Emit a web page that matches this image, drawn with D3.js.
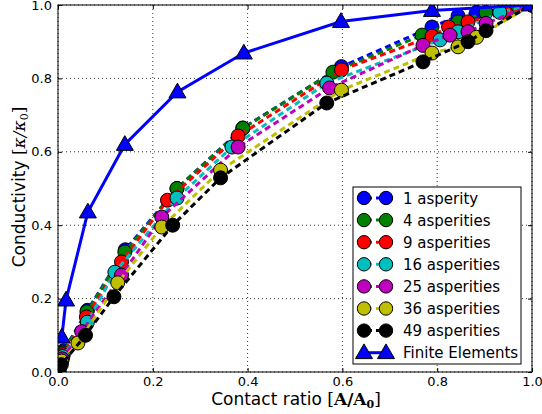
<!DOCTYPE html>
<html><head><meta charset="utf-8">
<script src="https://cdn.jsdelivr.net/npm/d3@7"></script>
<style>body{margin:0;background:#fff}svg{display:block}text{font-family:"DejaVu Sans",sans-serif}</style>
</head><body>
<script>
const xTicks = [0.0, 0.2, 0.4, 0.6, 0.8, 1.0];
const yTicks = [0.0, 0.2, 0.4, 0.6, 0.8, 1.0];

const feX = [0.008, 0.017, 0.063, 0.141, 0.252, 0.392, 0.597, 0.789, 0.995];
const feY = [0.095, 0.196, 0.436, 0.62, 0.763, 0.869, 0.955, 0.985, 1.0];

const s1X = [0.002, 0.012, 0.062, 0.142, 0.251, 0.39, 0.598, 0.789, 0.844, 0.883, 0.95, 1.0];
const s1Y = [0.01, 0.058, 0.168, 0.333, 0.50, 0.665, 0.832, 0.94, 0.97, 0.98, 0.99, 1.0];
const s4X = [0.002, 0.011, 0.061, 0.141, 0.251, 0.39, 0.58, 0.768, 0.844, 0.903, 0.96, 1.0];
const s4Y = [0.01, 0.052, 0.164, 0.327, 0.50, 0.664, 0.817, 0.918, 0.954, 0.98, 0.99, 1.0];
const s9X = [0.002, 0.011, 0.06, 0.134, 0.231, 0.38, 0.598, 0.789, 0.824, 0.865, 0.945, 1.0];
const s9Y = [0.01, 0.047, 0.15, 0.30, 0.468, 0.643, 0.823, 0.915, 0.94, 0.954, 0.978, 1.0];
const s16X = [0.002, 0.01, 0.062, 0.12, 0.251, 0.367, 0.567, 0.806, 0.844, 0.932, 1.0];
const s16Y = [0.008, 0.042, 0.136, 0.272, 0.474, 0.613, 0.787, 0.905, 0.927, 0.98, 1.0];
const s25X = [0.002, 0.009, 0.05, 0.134, 0.219, 0.38, 0.573, 0.77, 0.827, 0.865, 0.903, 1.0];
const s25Y = [0.007, 0.036, 0.11, 0.264, 0.422, 0.613, 0.774, 0.89, 0.918, 0.927, 0.95, 1.0];
const s36X = [0.002, 0.008, 0.042, 0.126, 0.219, 0.343, 0.598, 0.789, 0.844, 0.883, 1.0];
const s36Y = [0.005, 0.03, 0.079, 0.243, 0.395, 0.55, 0.768, 0.869, 0.886, 0.912, 1.0];
const s49X = [0.002, 0.007, 0.058, 0.118, 0.242, 0.343, 0.567, 0.77, 0.865, 0.903, 1.0];
const s49Y = [0.005, 0.02, 0.10, 0.205, 0.40, 0.529, 0.733, 0.845, 0.90, 0.93, 1.0];

const seriesNames = ["1 asperity", "4 asperities", "9 asperities", "16 asperities", "25 asperities", "36 asperities", "49 asperities"];
const seriesColors = ["#0000ff", "#008000", "#ff0000", "#00bfbf", "#bf00bf", "#bfbf00", "#000000"];
const seriesXs = [s1X, s4X, s9X, s16X, s25X, s36X, s49X];
const seriesYs = [s1Y, s4Y, s9Y, s16Y, s25Y, s36Y, s49Y];
const feName = "Finite Elements";

const W = 542, H = 414;
const L = 58, R = 532, T = 5, B = 372;
const svg = d3.select("body").append("svg").attr("width", W).attr("height", H);
const x = d3.scaleLinear().domain([0, 1]).range([L, R]);
const y = d3.scaleLinear().domain([0, 1]).range([B, T]);

svg.append("defs").append("clipPath").attr("id", "clip")
  .append("rect").attr("x", L).attr("y", T).attr("width", R - L).attr("height", B - T);

// grid
const grid = svg.append("g");
xTicks.forEach(t => grid.append("line").attr("x1", x(t)).attr("x2", x(t)).attr("y1", T).attr("y2", B)
  .attr("stroke", "#000").attr("stroke-width", 0.8).attr("stroke-dasharray", "1,3"));
yTicks.forEach(t => grid.append("line").attr("y1", y(t)).attr("y2", y(t)).attr("x1", L).attr("x2", R)
  .attr("stroke", "#000").attr("stroke-width", 0.8).attr("stroke-dasharray", "1,3"));

// axes with inward ticks
const fmt = d3.format(".1f");
svg.append("g").attr("transform", `translate(0,${B})`)
  .call(d3.axisBottom(x).tickValues(xTicks).tickFormat(fmt).tickSizeInner(-4).tickSizeOuter(0).tickPadding(5));
svg.append("g").attr("transform", `translate(${L},0)`)
  .call(d3.axisLeft(y).tickValues(yTicks).tickFormat(fmt).tickSizeInner(-4).tickSizeOuter(0).tickPadding(6));
svg.append("g").attr("transform", `translate(0,${T})`)
  .call(d3.axisTop(x).tickValues(xTicks).tickFormat("").tickSizeInner(-4).tickSizeOuter(0));
svg.append("g").attr("transform", `translate(${R},0)`)
  .call(d3.axisRight(y).tickValues(yTicks).tickFormat("").tickSizeInner(-4).tickSizeOuter(0));
svg.selectAll(".domain").remove();
svg.selectAll(".tick text").attr("font-size", 13).attr("fill", "#000").attr("font-family", "DejaVu Sans");
svg.selectAll(".tick line").attr("stroke", "#000");

// data
const plot = svg.append("g").attr("clip-path", "url(#clip)");
seriesNames.forEach((name, i) => {
  const pts = seriesXs[i].map((v, j) => [v, seriesYs[i][j]]);
  const g = plot.append("g");
  g.append("path").datum(pts)
    .attr("d", d3.line().x(d => x(d[0])).y(d => y(d[1])))
    .attr("fill", "none").attr("stroke", seriesColors[i]).attr("stroke-width", 3)
    .attr("stroke-dasharray", "6,4");
  g.selectAll("circle").data(pts).join("circle")
    .attr("cx", d => x(d[0])).attr("cy", d => y(d[1])).attr("r", 7)
    .attr("fill", seriesColors[i]).attr("stroke", "#000").attr("stroke-width", 1);
});
const fePts = feX.map((v, j) => [v, feY[j]]);
const tri = d3.symbol().type(d3.symbolTriangle).size(125);
plot.append("path").datum(fePts)
  .attr("d", d3.line().x(d => x(d[0])).y(d => y(d[1])))
  .attr("fill", "none").attr("stroke", "#0000ff").attr("stroke-width", 3);
plot.selectAll(".tri").data(fePts).join("path").attr("class", "tri")
  .attr("transform", d => `translate(${x(d[0])},${y(d[1]) + 1})`)
  .attr("d", tri).attr("fill", "#0000ff").attr("stroke", "#000").attr("stroke-width", 1);

// frame
svg.append("rect").attr("x", L).attr("y", T).attr("width", R - L).attr("height", B - T)
  .attr("fill", "none").attr("stroke", "#000").attr("stroke-width", 1);

// axis labels
const xl = svg.append("text").attr("x", 296).attr("y", 405).attr("text-anchor", "middle").attr("font-size", 17);
xl.append("tspan").text("Contact ratio ");
xl.append("tspan").attr("font-family", "DejaVu Serif").text("[");
xl.append("tspan").attr("font-family", "DejaVu Serif").attr("font-weight", "bold").text("A/A");
xl.append("tspan").attr("font-family", "DejaVu Serif").attr("font-weight", "bold").attr("font-size", 11).attr("dy", 3).text("0");
xl.append("tspan").attr("font-family", "DejaVu Serif").attr("dy", -3).text("]");

const yl = svg.append("text").attr("transform", "translate(25,187) rotate(-90)").attr("text-anchor", "middle").attr("font-size", 17);
yl.append("tspan").text("Conductivity ");
yl.append("tspan").attr("font-family", "DejaVu Serif").text("[");
yl.append("tspan").attr("font-family", "DejaVu Serif").attr("font-style", "italic").text("κ/κ");
yl.append("tspan").attr("font-family", "DejaVu Serif").attr("font-size", 11).attr("dy", 3).text("0");
yl.append("tspan").attr("font-family", "DejaVu Serif").attr("dy", -3).text("]");

// legend
const lg = svg.append("g");
lg.append("rect").attr("x", 353).attr("y", 187).attr("width", 168).attr("height", 177)
  .attr("fill", "#fff").attr("stroke", "#000").attr("stroke-width", 1);
const rowY = i => 198 + i * 22.1;
seriesNames.forEach((name, i) => {
  const yy = rowY(i);
  lg.append("line").attr("x1", 364).attr("x2", 386).attr("y1", yy).attr("y2", yy)
    .attr("stroke", seriesColors[i]).attr("stroke-width", 3).attr("stroke-dasharray", "6,4").attr("stroke-dashoffset", -12);
  [364, 386].forEach(cx => lg.append("circle").attr("cx", cx).attr("cy", yy).attr("r", 6.7)
    .attr("fill", seriesColors[i]).attr("stroke", "#000").attr("stroke-width", 1));
  lg.append("text").attr("x", 403).attr("y", yy + 5.5).attr("font-size", 15).text(name);
});
{
  const yy = rowY(7);
  lg.append("line").attr("x1", 364).attr("x2", 386).attr("y1", yy).attr("y2", yy)
    .attr("stroke", "#0000ff").attr("stroke-width", 3);
  [364, 386].forEach(cx => lg.append("path").attr("transform", `translate(${cx},${yy + 1})`)
    .attr("d", tri).attr("fill", "#0000ff").attr("stroke", "#000").attr("stroke-width", 1));
  lg.append("text").attr("x", 403).attr("y", yy + 5.5).attr("font-size", 15).text(feName);
}
</script>
</body></html>
